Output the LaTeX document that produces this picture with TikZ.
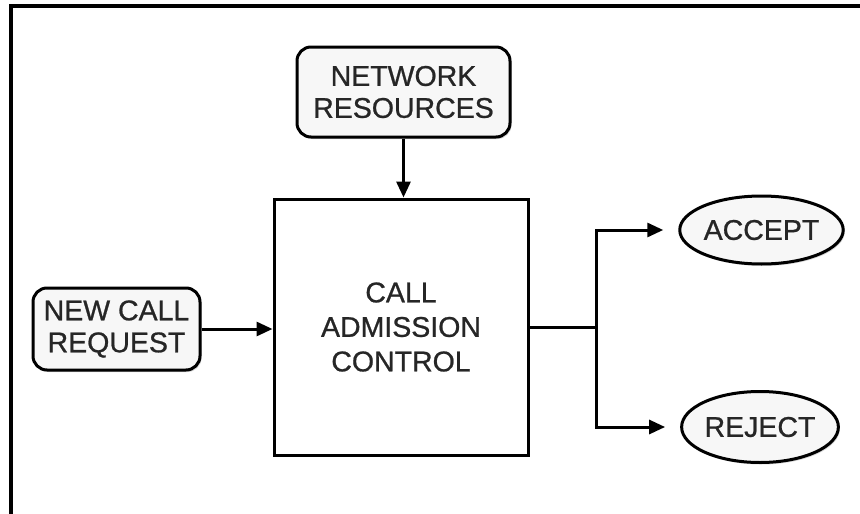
\documentclass[tikz,border=0pt]{standalone}
\usepackage{fontspec}
\setmainfont{Liberation Sans}[FakeBold=0.8]
\newfontfamily\heavy{Liberation Sans}[FakeBold=0.8,AutoFakeBold=0.8]
\usetikzlibrary{arrows.meta,shapes.geometric,shadows}
\definecolor{txt}{HTML}{262626}
\definecolor{boxfill}{HTML}{F7F7F7}
\tikzset{
  lw/.style={line width=3pt, draw=black},
  rbox/.style={lw, rounded corners=14pt, fill=boxfill, text=txt, align=center,
    font=\heavy\bfseries\fontsize{28.5}{32}\selectfont, inner sep=0pt,
    drop shadow={opacity=0.3, shadow xshift=1.5pt, shadow yshift=-2pt}},
  bigbox/.style={lw, fill=white, text=txt, align=center,
    font=\heavy\bfseries\fontsize{28.5}{34.5}\selectfont, inner sep=0pt,
    drop shadow={opacity=0.25, shadow xshift=1.5pt, shadow yshift=-2pt}},
  oval/.style={lw, ellipse, fill=boxfill, text=txt, align=center,
    font=\heavy\bfseries\fontsize{28.5}{32}\selectfont, inner sep=0pt,
    drop shadow={opacity=0.3, shadow xshift=1.5pt, shadow yshift=-2pt}},
  conn/.style={line width=3pt, draw=black},
  arr/.style={conn, -{Triangle[length=16pt,width=14pt]}},
}
\begin{document}
\begin{tikzpicture}[x=1pt,y=-1pt]
\useasboundingbox (0,0) rectangle (860,514);
\fill[white] (0,0) rectangle (860,514);
% frame
\draw[line width=3.6pt] (11,514) -- (11,5.7) -- (860,5.7);
% nodes
\node[rbox, minimum width=213pt, minimum height=90pt] (nr) at (403.5,92) {NETWORK\\RESOURCES};
\node[bigbox, minimum width=254pt, minimum height=256pt] (cac) at (401,327) {CALL\\ADMISSION\\CONTROL};
\node[rbox, minimum width=167pt, minimum height=82pt] (ncr) at (116.5,329) {NEW CALL\\REQUEST};
\node[oval, minimum width=147pt, minimum height=68pt] (acc) at (761.5,230) {ACCEPT};
\node[oval, minimum width=146pt, minimum height=71pt] (rej) at (760,427) {REJECT};
\coordinate (j) at (596,327);
% connectors
\draw[arr] (nr.south) -- (nr.south |- cac.north);
\draw[arr] (ncr.east) -- (cac.west |- ncr.east);
\draw[conn] (cac.east) -- (j);
\draw[arr] (j) |- ([xshift=-15pt]acc.west);
\draw[arr] (j) |- ([xshift=-15pt]rej.west);
\end{tikzpicture}
\end{document}
